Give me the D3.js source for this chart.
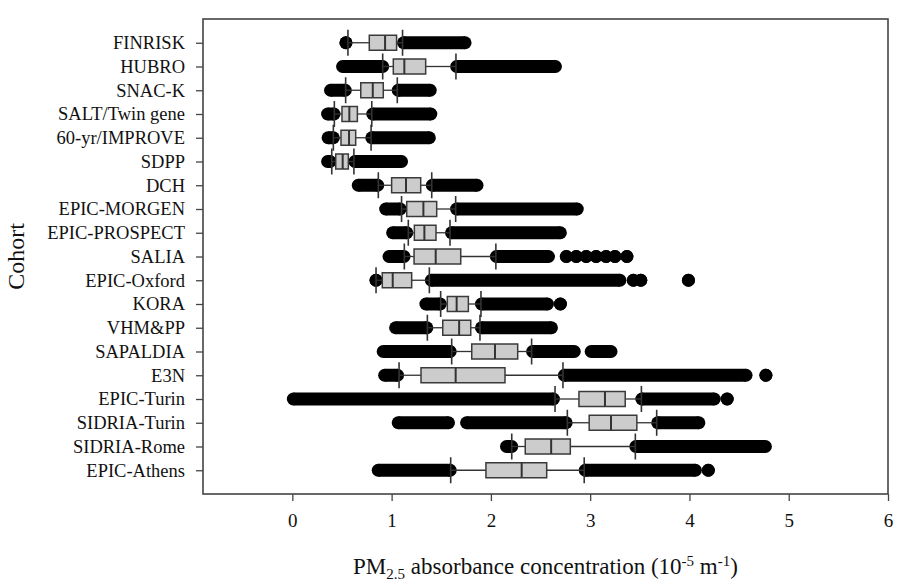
<!DOCTYPE html>
<html>
<head>
<meta charset="utf-8">
<script src="https://cdn.jsdelivr.net/npm/d3@7"></script>
<style>
  html, body { margin: 0; padding: 0; background: #fff; }
  svg text { font-family: "Liberation Serif", "Times New Roman", serif; fill: #111; }
</style>
</head>
<body>
<svg id="chart" width="898" height="582"></svg>
<script>
// Cohorts, top to bottom
const cohorts = [
  "FINRISK", "HUBRO", "SNAC-K", "SALT/Twin gene", "60-yr/IMPROVE", "SDPP", "DCH",
  "EPIC-MORGEN", "EPIC-PROSPECT", "SALIA", "EPIC-Oxford", "KORA", "VHM&PP",
  "SAPALDIA", "E3N", "EPIC-Turin", "SIDRIA-Turin", "SIDRIA-Rome", "EPIC-Athens"
];

// Box statistics (10^-5 m^-1)
const lowWhisker  = [0.56, 0.91, 0.537, 0.423, 0.413, 0.397, 0.866, 1.10, 1.168, 1.128, 0.843, 1.494, 1.36, 1.605, 1.075, 2.646, 2.77, 2.21, 1.595];
const q1          = [0.775, 1.017, 0.689, 0.50, 0.49, 0.437, 1.0, 1.152, 1.229, 1.226, 0.906, 1.561, 1.515, 1.807, 1.296, 2.887, 2.99, 2.346, 1.95];
const median      = [0.934, 1.128, 0.81, 0.574, 0.571, 0.507, 1.145, 1.32, 1.33, 1.444, 1.011, 1.655, 1.68, 2.041, 1.645, 3.149, 3.21, 2.607, 2.31];
const q3          = [1.05, 1.343, 0.916, 0.655, 0.638, 0.564, 1.293, 1.454, 1.447, 1.696, 1.202, 1.773, 1.797, 2.27, 2.142, 3.353, 3.47, 2.80, 2.562];
const highWhisker = [1.11, 1.648, 1.057, 0.80, 0.793, 0.62, 1.404, 1.645, 1.588, 2.05, 1.38, 1.90, 1.89, 2.41, 2.726, 3.516, 3.67, 3.455, 2.94];

// Outlying observations: [from, to] runs of densely packed points; single points as [v, v]
const lowOutliers = [
  [[0.54, 0.54]],
  [[0.506, 0.91]],
  [[0.385, 0.533]],
  [[0.355, 0.42]],
  [[0.36, 0.413]],
  [[0.355, 0.38]],
  [[0.664, 0.86]],
  [[0.94, 1.087]],
  [[1.01, 1.153]],
  [[0.974, 1.125]],
  [[0.843, 0.843]],
  [[1.345, 1.49]],
  [[1.04, 1.355]],
  [[0.915, 1.59]],
  [[0.93, 1.06]],
  [[0.01, 2.63]],
  [[1.066, 1.573], [1.755, 2.758]],
  [[2.157, 2.21]],
  [[0.865, 1.59]]
];
const highOutliers = [
  [[1.12, 1.74]],
  [[1.655, 2.65]],
  [[1.066, 1.389]],
  [[0.81, 1.395]],
  [[0.80, 1.38]],
  [[0.63, 1.10]],
  [[1.41, 1.86]],
  [[1.654, 2.87]],
  [[1.603, 2.70]],
  [[2.055, 2.58], [2.76, 2.76], [2.86, 2.86], [2.96, 2.96], [3.06, 3.06], [3.16, 3.16], [3.25, 3.25], [3.37, 3.37]],
  [[1.40, 3.30], [3.435, 3.435], [3.51, 3.51], [3.99, 3.99]],
  [[1.905, 2.57], [2.70, 2.70]],
  [[1.905, 2.61]],
  [[2.42, 2.84], [3.01, 3.21]],
  [[2.74, 4.57], [4.77, 4.77]],
  [[3.52, 4.25], [4.38, 4.38]],
  [[3.68, 4.095]],
  [[3.46, 4.765]],
  [[2.95, 4.06], [4.19, 4.19]]
];

const xTicks = [0, 1, 2, 3, 4, 5, 6];

const svg = d3.select("#chart");
const plot = { left: 203, right: 888, top: 19, bottom: 494 };

const x = d3.scaleLinear().domain([-0.9, 6]).range([plot.left, plot.right]);
const y = d3.scalePoint().domain(cohorts).range([plot.top, plot.bottom]).padding(1);

const dotR = 6.5, boxH = 15, capH = 13;

const rows = cohorts.map((c, i) => ({
  name: c, lo: lowWhisker[i], q1: q1[i], med: median[i], q3: q3[i], hi: highWhisker[i],
  runs: lowOutliers[i].concat(highOutliers[i])
}));

// Outlier points
const runs = rows.flatMap(r => r.runs.map(([a, b]) => ({ y: y(r.name), a, b })));
const gDots = svg.append("g").attr("fill", "#000");
gDots.selectAll("rect.run").data(runs).join("rect")
  .attr("x", d => x(d.a)).attr("width", d => x(d.b) - x(d.a))
  .attr("y", d => d.y - dotR).attr("height", 2 * dotR);
gDots.selectAll("circle.s").data(runs).join("circle")
  .attr("cx", d => x(d.a)).attr("cy", d => d.y).attr("r", dotR);
gDots.selectAll("circle.e").data(runs).join("circle")
  .attr("cx", d => x(d.b)).attr("cy", d => d.y).attr("r", dotR);

// Whiskers, caps and boxes
const gBox = svg.append("g");
const row = gBox.selectAll("g").data(rows).join("g")
  .attr("transform", d => `translate(0,${y(d.name)})`);

row.append("line").attr("x1", d => x(d.lo)).attr("x2", d => x(d.q1))
  .attr("stroke", "#333").attr("stroke-width", 1.3);
row.append("line").attr("x1", d => x(d.q3)).attr("x2", d => x(d.hi))
  .attr("stroke", "#333").attr("stroke-width", 1.3);
row.append("line").attr("x1", d => x(d.lo)).attr("x2", d => x(d.lo))
  .attr("y1", -capH).attr("y2", capH).attr("stroke", "#333").attr("stroke-width", 1.6);
row.append("line").attr("x1", d => x(d.hi)).attr("x2", d => x(d.hi))
  .attr("y1", -capH).attr("y2", capH).attr("stroke", "#333").attr("stroke-width", 1.6);
row.append("rect")
  .attr("x", d => x(d.q1)).attr("width", d => x(d.q3) - x(d.q1))
  .attr("y", -boxH / 2).attr("height", boxH)
  .attr("fill", "#cccccc").attr("stroke", "#3a3a3a").attr("stroke-width", 1.5);
row.append("line").attr("x1", d => x(d.med)).attr("x2", d => x(d.med))
  .attr("y1", -boxH / 2).attr("y2", boxH / 2).attr("stroke", "#333").attr("stroke-width", 2);

// Frame
svg.append("rect")
  .attr("x", plot.left).attr("y", plot.top)
  .attr("width", plot.right - plot.left).attr("height", plot.bottom - plot.top)
  .attr("fill", "none").attr("stroke", "#444").attr("stroke-width", 1.6);

// Axes
const xAxis = svg.append("g").attr("transform", `translate(0,${plot.bottom})`)
  .call(d3.axisBottom(x).tickValues(xTicks).tickSize(7).tickPadding(13).tickFormat(d3.format("d")));
xAxis.select(".domain").remove();
xAxis.selectAll("line").attr("stroke", "#444").attr("stroke-width", 1.3);
xAxis.selectAll("text").attr("font-size", 19).attr("fill", "#111");

const yAxis = svg.append("g").attr("transform", `translate(${plot.left},0)`)
  .call(d3.axisLeft(y).tickSize(7).tickPadding(11));
yAxis.select(".domain").remove();
yAxis.selectAll("line").attr("stroke", "#444").attr("stroke-width", 1.3);
yAxis.selectAll("text").attr("font-size", 18.5).attr("fill", "#111");

// Axis titles
const xt = svg.append("text")
  .attr("x", (plot.left + plot.right) / 2).attr("y", 574)
  .attr("text-anchor", "middle").attr("font-size", 23);
xt.append("tspan").text("PM");
xt.append("tspan").attr("font-size", 15).attr("dy", 5).text("2.5");
xt.append("tspan").attr("dy", -5).text(" absorbance concentration (10");
xt.append("tspan").attr("font-size", 15).attr("dy", -8).text("-5");
xt.append("tspan").attr("dy", 8).text(" m");
xt.append("tspan").attr("font-size", 15).attr("dy", -8).text("-1");
xt.append("tspan").attr("dy", 8).text(")");

svg.append("text")
  .attr("transform", `translate(24,${(plot.top + plot.bottom) / 2}) rotate(-90)`)
  .attr("text-anchor", "middle").attr("font-size", 24).text("Cohort");
</script>
</body>
</html>
